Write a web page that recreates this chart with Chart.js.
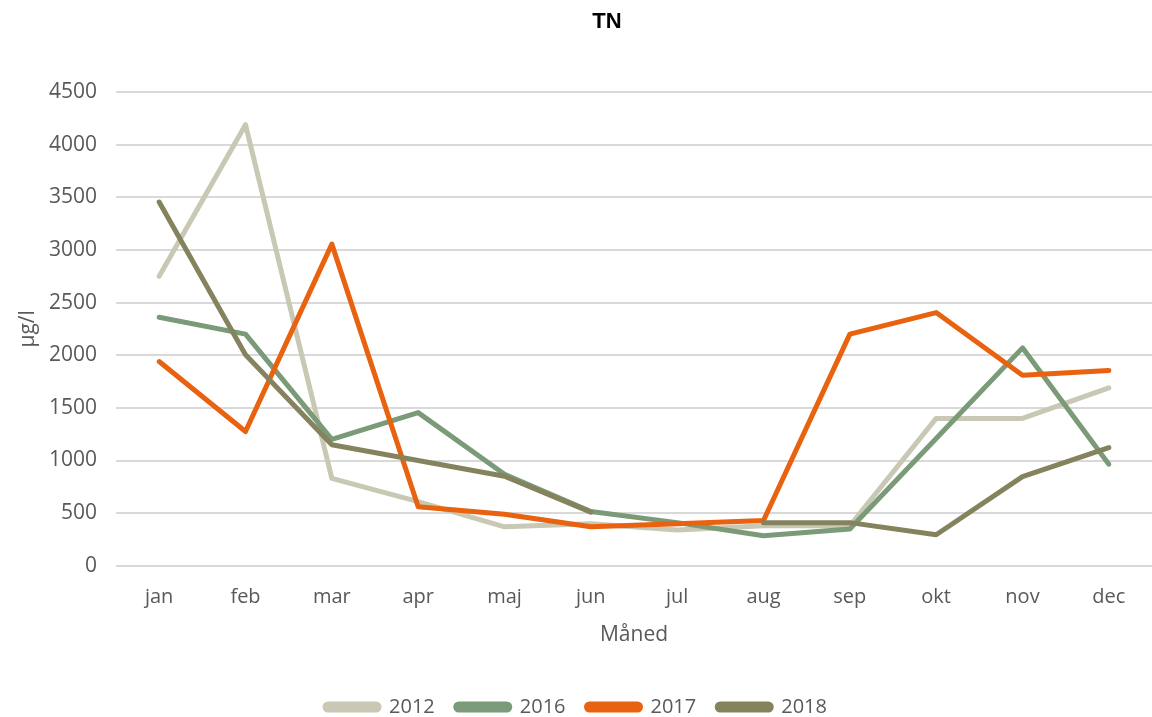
<!DOCTYPE html>
<html lang="da">
<head>
    <meta charset="UTF-8">
    <title>TN</title>
    <style>
        html, body {
            margin: 0;
            padding: 0;
            background: #ffffff;
        }
        .chart-box {
            position: relative;
            width: 1152px;
            height: 717px;
        }
    </style>
</head>
<body>
    <div class="chart-box">
        <canvas id="tnChart"></canvas>
    </div>
    <script src="https://cdn.jsdelivr.net/npm/chart.js"></script>
    <script>
        // Months and yearly TN values (µg/l)
        const months = ['jan', 'feb', 'mar', 'apr', 'maj', 'jun', 'jul', 'aug', 'sep', 'okt', 'nov', 'dec'];
        const tn2012 = [2750, 4190, 830, 610, 370, 400, 340, 380, 380, 1400, 1400, 1690];
        const tn2016 = [2360, 2200, 1200, 1455, 870, 515, 410, 285, 350, 1210, 2070, 965];
        const tn2017 = [1940, 1275, 3055, 560, 490, 370, 400, 430, 2200, 2405, 1810, 1855];
        const tn2018 = [3455, 2005, 1150, 1000, 850, 510, null, 410, 410, 295, 847, 1123];
        const yTicks = [0, 500, 1000, 1500, 2000, 2500, 3000, 3500, 4000, 4500];

        const textGrey = '#595959';
        const baseFont = '"Open Sans", sans-serif';

        // title sits a bit right of canvas centre, like the original;
        // legend keeps wide item spacing but a shorter box
        const tnPlugin = {
            id: 'tnExtras',
            afterInit(chart) {
                const lg = chart.legend;
                if (lg && !lg._tnPatched) {
                    const fit = lg.fit;
                    lg.fit = function () {
                        fit.call(this);
                        this.height = Math.max(0, this.height - 10);
                    };
                    lg._tnPatched = true;
                }
            },
            afterDraw(chart) {
                const ctx = chart.ctx;
                ctx.save();
                ctx.font = 'bold 22px "Liberation Sans", Arial, sans-serif';
                ctx.fillStyle = '#000000';
                ctx.textAlign = 'center';
                ctx.textBaseline = 'middle';
                ctx.fillText('TN', 607, 22);
                ctx.restore();
            }
        };

        function line(label, data, color, order) {
            return {
                label: label,
                data: data,
                order: order,
                borderColor: color,
                backgroundColor: color,
                borderWidth: 5,
                pointRadius: 0,
                tension: 0,
                borderCapStyle: 'round',
                borderJoinStyle: 'round',
                spanGaps: false
            };
        }

        const ctx = document.getElementById('tnChart').getContext('2d');
        new Chart(ctx, {
            type: 'line',
            data: {
                labels: months,
                datasets: [
                    line('2012', tn2012, '#c8c8b4', 4),
                    line('2016', tn2016, '#7a9a78', 3),
                    line('2017', tn2017, '#e8620f', 2),
                    line('2018', tn2018, '#84835e', 1)
                ]
            },
            options: {
                responsive: true,
                maintainAspectRatio: false,
                animation: false,
                layout: {
                    padding: { top: 92, right: 0, bottom: 0, left: 0 }
                },
                plugins: {
                    title: { display: false },
                    tooltip: { enabled: false },
                    legend: {
                        position: 'bottom',
                        labels: {
                            boxWidth: 54,
                            boxHeight: 6,
                            useBorderRadius: true,
                            borderRadius: 3,
                            padding: 21,
                            color: textGrey,
                            font: { family: baseFont, size: 20 },
                            sort: (a, b) => a.datasetIndex - b.datasetIndex
                        }
                    }
                },
                scales: {
                    x: {
                        offset: true,
                        grid: { display: false },
                        border: { display: false },
                        ticks: {
                            color: textGrey,
                            padding: 11,
                            font: { family: baseFont, size: 20 }
                        },
                        title: {
                            display: true,
                            text: 'Måned',
                            color: textGrey,
                            padding: { top: 3, bottom: 28 },
                            font: { family: baseFont, size: 21 }
                        }
                    },
                    y: {
                        min: 0,
                        max: 4500,
                        afterBuildTicks(axis) {
                            axis.ticks = yTicks.map(v => ({ value: v }));
                        },
                        afterFit(axis) {
                            axis.width = 116;
                        },
                        grid: {
                            color: '#d9d9d9',
                            lineWidth: 2,
                            drawTicks: false
                        },
                        border: { display: false },
                        ticks: {
                            color: textGrey,
                            padding: 19,
                            font: { family: baseFont, size: 21 },
                            callback: v => String(v)
                        },
                        title: {
                            display: true,
                            text: 'µg/l',
                            color: textGrey,
                            padding: { top: 15, bottom: 0 },
                            font: { family: baseFont, size: 21 }
                        }
                    }
                }
            },
            plugins: [tnPlugin]
        });
    </script>
</body>
</html>
